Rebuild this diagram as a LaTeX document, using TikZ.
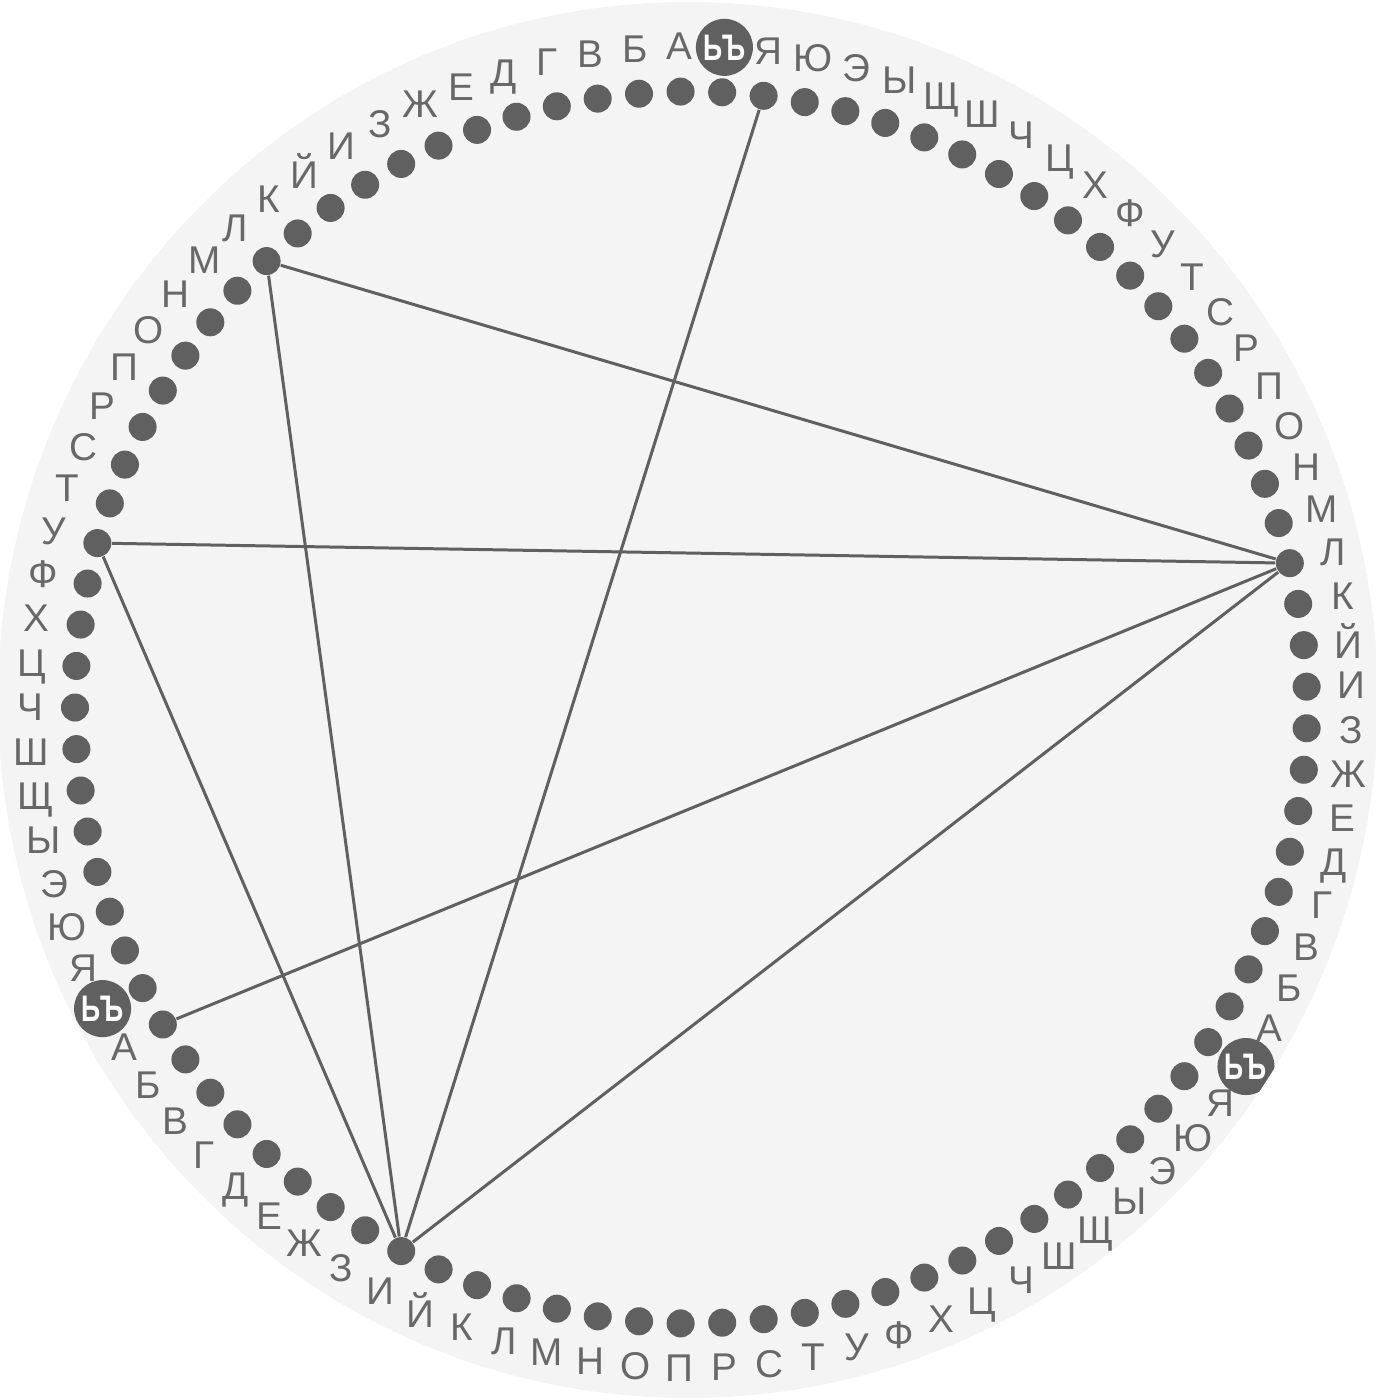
\documentclass[tikz,border=0pt]{standalone}
\usepackage{fontspec}
\setmainfont{Liberation Sans}
\definecolor{dotgray}{HTML}{606060}
\definecolor{lettergray}{HTML}{686868}
\definecolor{diskgray}{HTML}{F4F4F4}

\begin{document}
\begin{tikzpicture}[x=0.01cm,y=0.01cm,
  dot/.style={circle,fill=dotgray,inner sep=0pt,minimum size=0.28cm},
  letter/.style={text=lettergray,inner sep=0pt,text depth=0pt,font=\fontsize{11}{13}\selectfont},
  marker/.style={circle,fill=dotgray,text=white,inner sep=0pt,minimum size=0.57cm,font=\bfseries\fontsize{10.5}{12}\selectfont},
  link/.style={draw=dotgray,line width=0.85pt}]
\useasboundingbox (-691,-692.5) rectangle (685,707.5);
\clip (-3,7.5) ellipse [x radius=690,y radius=698];
\fill[diskgray] (-3,7.5) ellipse [x radius=690,y radius=698];

% three alphabets round the ring, each one begins with the marker
\foreach \s/\start in {a/87.1,b/207.1,c/327.1}{
  \node[dot] (\s0) at (\start:616) {};
  \node[marker] (m\s) at (\start:661) {\scalebox{0.72}[1]{ЬЪ}};
  \foreach \ch [count=\k] in {А,Б,В,Г,Д,Е,Ж,З,И,Й,К,Л,М,Н,О,П,Р,С,Т,У,Ф,Х,Ц,Ч,Ш,Щ,Ы,Э,Ю,Я}{
    \node[dot] (\s\k) at ({\start+\k*360/93}:616) {};
    \node[letter] (l\s\k) at ({\start+\k*360/93}:661) {\ch};
  }
}

\draw[link] (a12) -- (c12);
\draw[link] (a20) -- (c12);
\draw[link] (b1) -- (c12);
\draw[link] (b9) -- (c12);
\draw[link] (c30) -- (b9);
\draw[link] (a20) -- (b9);
\draw[link] (a12) -- (b9);
\end{tikzpicture}
\end{document}
